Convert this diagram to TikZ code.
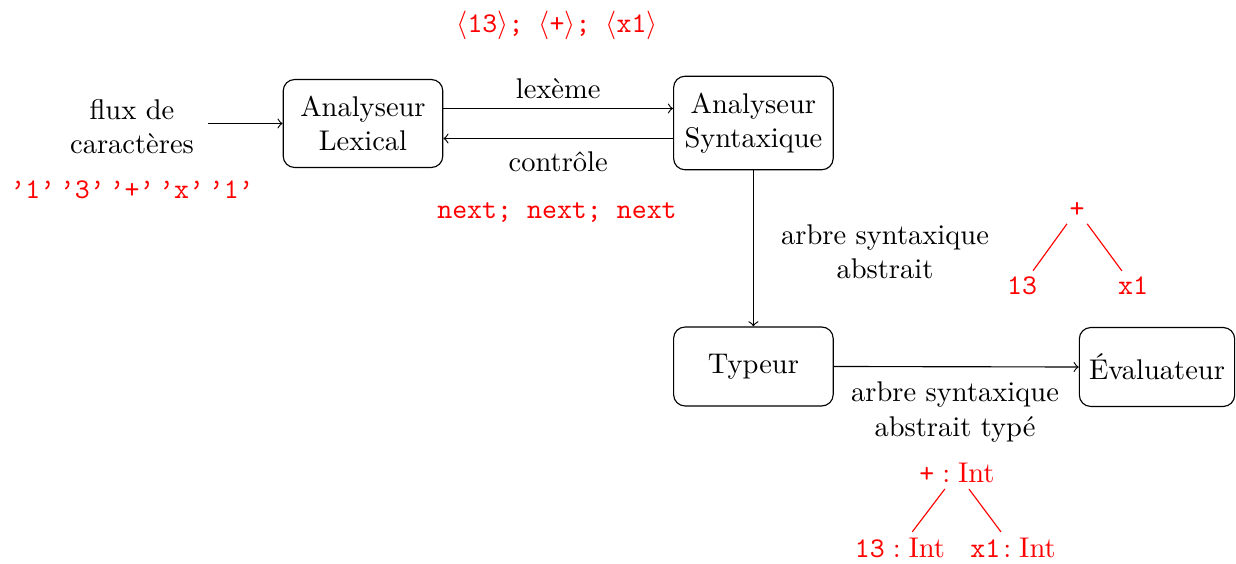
\documentclass[tikz,border=0pt]{standalone}
\usetikzlibrary{calc}
\begin{document}
\begin{tikzpicture}[x=0.3509pt,y=-0.3509pt,
  box/.style={draw,rounded corners,minimum width=56pt,minimum height=27.7pt,inner ysep=5.8pt,align=center},
  rtxt/.style={text=red},
  leaf/.style={text=red,inner sep=2pt,font=\ttfamily},
  tleaf/.style={text=red,inner sep=2pt},
  redge/.style={draw=red}]
\useasboundingbox (0,0) rectangle (1236,564);
\node[box] (lex) at (363,123.5) {Analyseur\\Lexical};
\node[box] (syn) at (753.4,123) {Analyseur\\Syntaxique};
\node[box] (typ) at (753.4,366.5) {Typeur};
\node[box,minimum width=54.5pt] (eva) at (1157,367) {Évaluateur};
\node[align=center] (flux) at (132,127) {flux de\\caractères};
\draw[->,shorten <=1.5pt] (flux.east |- lex.west) -- (lex.west);
\draw[->] ($(lex.east)+(0,-15)$) -- ($(lex.east -| syn.west)+(0,-15)$) node[midway,above] (lxm) {lexème};
\draw[->] ($(lex.east -| syn.west)+(0,15)$) -- ($(lex.east)+(0,15)$) node[midway,below,yshift=-1pt] (ctl) {contrôle};
\draw[->] (syn.south) -- (typ.north);
\node[align=center] (asa) at (885,252) {arbre syntaxique\\abstrait};
\draw[->] (typ.east) -- (eva.west);
\node[align=center] (asat) at (955,412) {arbre syntaxique\\abstrait typé};
\node[rtxt,font=\ttfamily] (lexs) at (557,25) {$\langle$13$\rangle$; $\langle$+$\rangle$; $\langle$x1$\rangle$};
\node[rtxt,font=\ttfamily] (chars) at (132,190) {’1’\,’3’\,’+’\,’x’\,’1’};
\node[rtxt,font=\ttfamily] (nexts) at (557,213) {next; next; next};
\node[leaf] (p) at (1077,210) {+};
\node[leaf] (a) at (1022,286) {13};
\node[leaf] (b) at (1133,286) {x1};
\draw[redge] (p) -- (a);
\draw[redge] (p) -- (b);
\node[tleaf] (tp) at (957,473) {$\texttt{+}:\mathrm{Int}$};
\node[tleaf] (ta) at (900,548) {$\texttt{13}:\mathrm{Int}$};
\node[tleaf] (tb) at (1013,548) {$\texttt{x1}\!:\mathrm{Int}$};
\draw[redge] (tp) -- (ta);
\draw[redge] (tp) -- (tb);
\end{tikzpicture}
\end{document}
